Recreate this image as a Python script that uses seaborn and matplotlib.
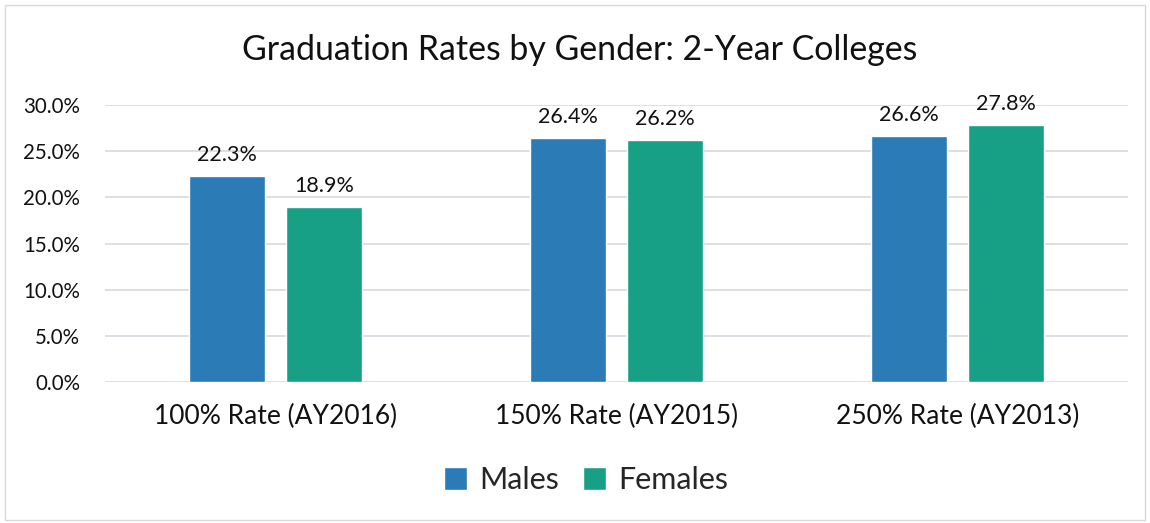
import matplotlib
matplotlib.use("Agg")
import matplotlib.pyplot as plt
import seaborn as sns
import pandas as pd
from matplotlib.patches import Rectangle
from matplotlib.ticker import FuncFormatter

categories = ["100% Rate (AY2016)", "150% Rate (AY2015)", "250% Rate (AY2013)"]
series = ["Males", "Females"]
males = [22.3, 26.4, 26.6]
females = [18.9, 26.2, 27.8]
yticks = [0, 5, 10, 15, 20, 25, 30]
title = "Graduation Rates by Gender: 2-Year Colleges"
colors = ["#2b7bb7", "#17a085"]

df = pd.DataFrame({
    "cat": categories * 2,
    "gender": [series[0]] * 3 + [series[1]] * 3,
    "val": males + females,
})

sns.set_theme(style="white")
plt.rcParams["font.family"] = ["Lato", "DejaVu Sans"]

fig = plt.figure(figsize=(11.5, 5.23), dpi=100)
ax = fig.add_axes([105 / 1150, 1 - 382 / 523, 1023 / 1150, 277 / 523])

sns.barplot(data=df, x="cat", y="val", hue="gender", palette=colors,
            width=0.568, gap=0.215, ax=ax, saturation=1, legend=True)

ax.set_ylim(0, 30)
ax.set_xlim(-0.5, 2.5)
ax.set_yticks(yticks)
ax.yaxis.set_major_formatter(FuncFormatter(lambda v, p: f"{v:.1f}%"))
ax.grid(axis="y", color="#d9dde3", linewidth=1.3)
ax.set_axisbelow(True)
for s in ax.spines.values():
    s.set_visible(False)
ax.set_xlabel("")
ax.set_ylabel("")
ax.tick_params(axis="y", labelsize=14.8, colors="#111111", pad=18, length=0)
ax.tick_params(axis="x", labelsize=19, colors="#111111", pad=16, length=0)

for cont in ax.containers:
    ax.bar_label(cont, labels=[f"{v:.1f}%" for v in cont.datavalues],
                 padding=8, fontsize=15.5, color="#111111")

fig.text(580 / 1150, 1 - 50 / 523, title, fontsize=24.4, color="#111111",
         ha="center", va="center")

handles, labels = ax.get_legend_handles_labels()
ax.legend_.remove()
fig.legend(handles, labels, loc="center", bbox_to_anchor=(586 / 1150, 1 - 480 / 523),
           ncol=2, frameon=False, fontsize=22, handlelength=0.75, handleheight=0.75,
           handletextpad=0.4, columnspacing=0.8)

fig.patches.append(Rectangle((5 / 1150, 3 / 523), 1140 / 1150, 515 / 523,
                             transform=fig.transFigure, fill=False,
                             edgecolor="#d9d9d9", linewidth=1))

fig.savefig("out.png", dpi=100)
